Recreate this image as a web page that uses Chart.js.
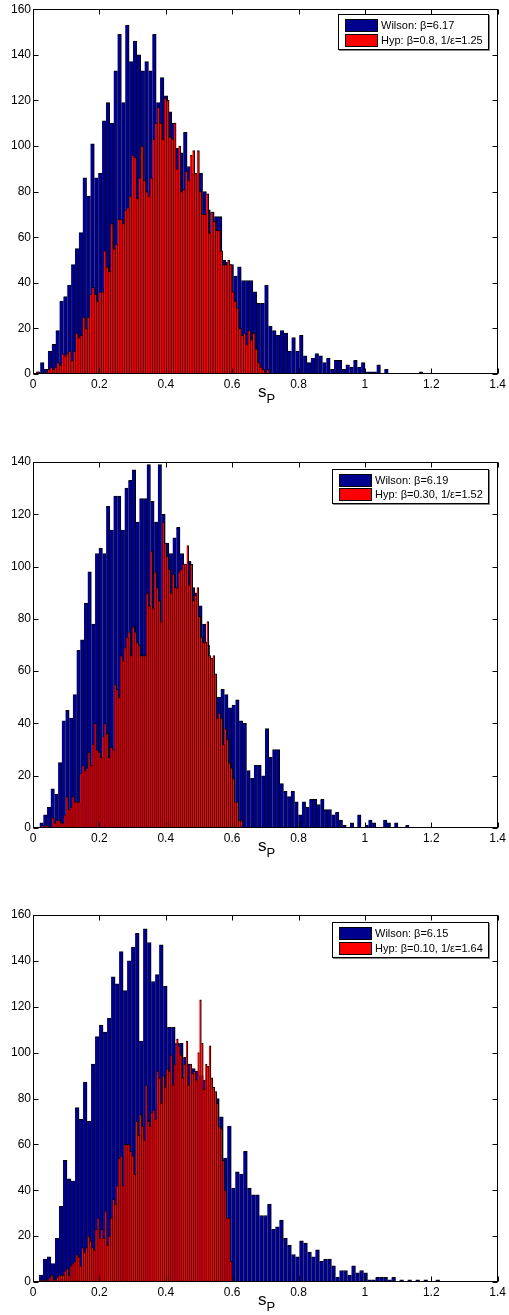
<!DOCTYPE html>
<html>
<head>
<meta charset="utf-8">
<script src="https://cdn.jsdelivr.net/npm/chart.js@4.4.0/dist/chart.umd.min.js"></script>
<style>
  body { margin: 0; background: #fff; font-family: "Liberation Sans", Arial, sans-serif; }
  #page { position: relative; width: 509px; height: 1315px; overflow: hidden; }
  .panel { position: absolute; left: 0; }
  .legend { position: absolute; background: #fff; border: 1px solid #000; box-shadow: 1px 1px 0 #888; font-size: 11px; color: #000; box-sizing: border-box; }
  .legend .swatch { position: absolute; left: 6px; width: 33px; height: 13px; border: 1px solid #000; box-sizing: border-box; }
  .legend .txt { position: absolute; left: 42px; line-height: 13px; white-space: nowrap; }
  .xlabel { position: absolute; font-size: 17px; line-height: 17px; color: #000; }
  .xlabel sub { font-size: 13px; vertical-align: -6px; line-height: 0; }
</style>
</head>
<body>
<div id="page">
  <canvas id="chart1" class="panel" width="509" height="430" style="top:0px"></canvas>
  <canvas id="chart2" class="panel" width="509" height="445" style="top:430px"></canvas>
  <canvas id="chart3" class="panel" width="509" height="440" style="top:875px"></canvas>

  <div class="legend" style="left:338px; top:14px; width:151px; height:36px;">
    <div class="swatch" style="top:4px; background:rgb(0,0,143)"></div>
    <div class="txt" style="top:4px">Wilson: β=6.17</div>
    <div class="swatch" style="top:19px; background:#ff0000"></div>
    <div class="txt" style="top:19px">Hyp: β=0.8, 1/ε=1.25</div>
  </div>
  <div class="legend" style="left:332px; top:469px; width:157px; height:35px;">
    <div class="swatch" style="top:4px; background:rgb(0,0,143)"></div>
    <div class="txt" style="top:4px">Wilson: β=6.19</div>
    <div class="swatch" style="top:18px; background:#ff0000"></div>
    <div class="txt" style="top:18px">Hyp: β=0.30, 1/ε=1.52</div>
  </div>
  <div class="legend" style="left:332px; top:922px; width:157px; height:36px;">
    <div class="swatch" style="top:4px; background:rgb(0,0,143)"></div>
    <div class="txt" style="top:4px">Wilson: β=6.15</div>
    <div class="swatch" style="top:19px; background:#ff0000"></div>
    <div class="txt" style="top:19px">Hyp: β=0.10, 1/ε=1.64</div>
  </div>

  <div class="xlabel" style="left:258px; top:383px">s<sub>P</sub></div>
  <div class="xlabel" style="left:258px; top:837px">s<sub>P</sub></div>
  <div class="xlabel" style="left:258px; top:1291px">s<sub>P</sub></div>
</div>

<script>
// histogram counts, 100 bins per series
const wilsonCounts1 = [
  1, 5, 2, 10, 13, 19, 32, 34, 39, 48, 55, 62, 86, 78, 101, 86, 88, 111, 119, 110,
  133, 149, 119, 153, 137, 146, 140, 133, 137, 133, 149, 119, 130, 122, 115, 110, 99, 97, 106, 91,
  88, 87, 88, 80, 72, 71, 69, 69, 50, 49, 48, 43, 47, 41, 41, 41, 36, 31, 31, 39,
  21, 19, 17, 19, 18, 10, 16, 10, 17, 8, 5, 7, 9, 8, 5, 7, 2, 6, 6, 2,
  4, 3, 6, 3, 5, 1, 1, 1, 4, 0, 2, 0, 0, 0, 0, 0, 0, 0, 0, 1
];
const hypCounts1 = [
  1, 0, 0, 0, 1, 2, 3, 2, 3, 5, 4, 9, 8, 9, 10, 6, 10, 18, 16, 17,
  25, 20, 25, 35, 38, 35, 32, 36, 36, 54, 47, 45, 66, 55, 57, 68, 68, 66, 72, 73,
  78, 96, 95, 77, 86, 100, 85, 80, 78, 86, 103, 110, 117, 110, 103, 121, 120, 104, 103, 110,
  90, 100, 80, 81, 89, 85, 96, 98, 88, 98, 80, 70, 70, 79, 62, 71, 67, 63, 63, 54,
  48, 48, 50, 48, 36, 32, 29, 20, 17, 18, 13, 19, 15, 18, 11, 5, 3, 2, 1, 2
];
const wilsonCounts2 = [
  2, 5, 8, 15, 13, 25, 41, 45, 42, 51, 68, 72, 86, 98, 78, 105, 107, 105, 123, 114,
  127, 127, 114, 130, 133, 137, 117, 126, 126, 139, 125, 117, 139, 120, 109, 105, 111, 115, 105, 100,
  102, 92, 90, 85, 78, 70, 65, 58, 50, 53, 51, 46, 47, 49, 41, 40, 22, 19, 24, 24,
  20, 38, 27, 30, 30, 17, 14, 12, 14, 10, 5, 10, 8, 11, 11, 9, 11, 7, 7, 5,
  6, 3, 1, 0, 2, 0, 5, 0, 1, 3, 2, 0, 0, 3, 2, 0, 2, 0, 0, 1
];
const hypCounts2 = [
  1, 0, 1, 0, 0, 4, 2, 3, 3, 2, 2, 5, 12, 7, 8, 12, 10, 10, 10, 21,
  24, 22, 23, 29, 24, 32, 40, 30, 29, 27, 35, 40, 36, 27, 31, 30, 55, 53, 50, 66,
  64, 69, 73, 75, 66, 77, 75, 71, 70, 66, 66, 66, 90, 85, 106, 84, 98, 92, 87, 79,
  117, 109, 104, 99, 90, 97, 92, 92, 98, 99, 101, 101, 108, 93, 101, 87, 89, 92, 81, 73,
  71, 71, 79, 66, 65, 66, 59, 42, 44, 42, 32, 38, 34, 25, 23, 19, 10, 10, 3, 3
];
const wilsonCounts3 = [
  3, 10, 11, 8, 19, 33, 53, 45, 44, 76, 71, 87, 70, 95, 107, 112, 109, 115, 133, 130,
  144, 127, 140, 146, 152, 105, 154, 148, 131, 134, 147, 129, 111, 111, 104, 104, 98, 95, 93, 92,
  90, 88, 85, 80, 80, 72, 54, 68, 41, 48, 47, 57, 41, 38, 38, 29, 29, 34, 23, 24,
  27, 19, 16, 12, 11, 18, 17, 13, 11, 14, 9, 10, 10, 7, 2, 5, 5, 3, 7, 4,
  5, 4, 1, 1, 2, 2, 2, 1, 2, 0, 1, 0, 1, 0, 1, 0, 1, 0, 0, 1
];
const hypCounts3 = [
  1, 1, 1, 1, 0, 2, 3, 1, 1, 2, 3, 3, 3, 5, 6, 3, 7, 8, 9, 12,
  11, 7, 15, 13, 15, 20, 18, 15, 14, 23, 28, 19, 23, 19, 31, 16, 20, 28, 36, 34,
  42, 54, 55, 42, 60, 60, 60, 57, 55, 47, 70, 64, 73, 68, 62, 86, 70, 68, 74, 75,
  71, 92, 89, 78, 90, 85, 93, 92, 99, 86, 95, 106, 103, 99, 89, 95, 105, 86, 95, 91,
  92, 88, 100, 123, 104, 84, 95, 94, 103, 89, 85, 83, 78, 68, 67, 53, 40, 28, 28, 9
];

// data range covered by each histogram [first edge, last edge]
const wilsonRange1 = [0.010, 1.175];
const hypRange1 = [0.010, 0.712];
const wilsonRange2 = [0.020, 1.133];
const hypRange2 = [0.028, 0.632];
const wilsonRange3 = [0.018, 1.225];
const hypRange3 = [0.020, 0.600];

const xTickStep = 0.2;
const xMax = 1.4;
const yMaxes = [160, 140, 160];
const yTickStep = 20;

const Colors = {
  wilson: 'rgb(0, 0, 143)',
  hyp: 'rgb(255, 0, 0)',
  edge: '#000'
};

function binCenters(range, n) {
  const w = (range[1] - range[0]) / n;
  return Array.from({ length: n }, (_, i) => range[0] + (i + 0.5) * w);
}

function toPoints(counts, range) {
  const centers = binCenters(range, counts.length);
  return counts.map((y, i) => ({ x: centers[i], y: y }));
}

// box round the plot area with inward ticks on all four sides
const boxAndTicks = {
  id: 'boxAndTicks',
  afterDraw(chart) {
    const { ctx, chartArea: a, scales } = chart;
    const len = 5;
    ctx.save();
    ctx.strokeStyle = '#000';
    ctx.lineWidth = 1;
    const l = Math.round(a.left) + 0.5, r = Math.round(a.right) - 0.5;
    const t = Math.round(a.top) + 0.5, b = Math.round(a.bottom) - 0.5;
    ctx.strokeRect(l, t, r - l, b - t);
    ctx.beginPath();
    scales.x.ticks.forEach(tick => {
      const px = Math.round(scales.x.getPixelForValue(tick.value)) + 0.5;
      ctx.moveTo(px, b); ctx.lineTo(px, b - len);
      ctx.moveTo(px, t); ctx.lineTo(px, t + len);
    });
    scales.y.ticks.forEach(tick => {
      const py = Math.round(scales.y.getPixelForValue(tick.value)) + 0.5;
      ctx.moveTo(l, py); ctx.lineTo(l + len, py);
      ctx.moveTo(r, py); ctx.lineTo(r - len, py);
    });
    ctx.stroke();
    ctx.restore();
  }
};

function makeChart(canvasId, wilson, hyp, yMax, topPad, xAxisHeight) {
  const barStyle = {
    borderColor: Colors.edge,
    borderWidth: { top: 1, right: 1, left: 0, bottom: 0 },
    barPercentage: 1,
    categoryPercentage: 1,
    grouped: false
  };
  return new Chart(document.getElementById(canvasId), {
    type: 'bar',
    data: {
      datasets: [
        // higher order is drawn first, so the Hyp bars sit on top
        Object.assign({ label: 'Wilson', data: wilson, backgroundColor: Colors.wilson, xAxisID: 'x', order: 2 }, barStyle),
        Object.assign({ label: 'Hyp', data: hyp, backgroundColor: Colors.hyp, xAxisID: 'xr', order: 1 }, barStyle)
      ]
    },
    options: {
      responsive: false,
      animation: false,
      devicePixelRatio: 1,
      layout: { padding: { top: topPad, right: 11, left: 0, bottom: 0 } },
      plugins: { legend: { display: false }, tooltip: { enabled: false } },
      scales: {
        x: {
          type: 'linear',
          min: 0,
          max: xMax,
          offset: false,
          grid: { display: false, drawTicks: false, offset: false },
          border: { display: false },
          ticks: {
            stepSize: xTickStep,
            color: '#000',
            padding: 3,
            maxRotation: 0,
            font: { family: '"Liberation Sans", Arial, sans-serif', size: 12 },
            callback: v => String(+v.toFixed(1))
          },
          afterFit: s => { s.height = xAxisHeight; }
        },
        xr: { type: 'linear', min: 0, max: xMax, offset: false, display: false },
        y: {
          min: 0,
          max: yMax,
          grid: { display: false, drawTicks: false },
          border: { display: false },
          ticks: {
            stepSize: yTickStep,
            color: '#000',
            padding: 2,
            font: { family: '"Liberation Sans", Arial, sans-serif', size: 12 }
          },
          afterFit: s => { s.width = 33; }
        }
      }
    },
    plugins: [boxAndTicks]
  });
}

makeChart('chart1', toPoints(wilsonCounts1, wilsonRange1), toPoints(hypCounts1, hypRange1), yMaxes[0], 7, 56);
makeChart('chart2', toPoints(wilsonCounts2, wilsonRange2), toPoints(hypCounts2, hypRange2), yMaxes[1], 32, 47);
makeChart('chart3', toPoints(wilsonCounts3, wilsonRange3), toPoints(hypCounts3, hypRange3), yMaxes[2], 40, 33);
</script>
</body>
</html>
